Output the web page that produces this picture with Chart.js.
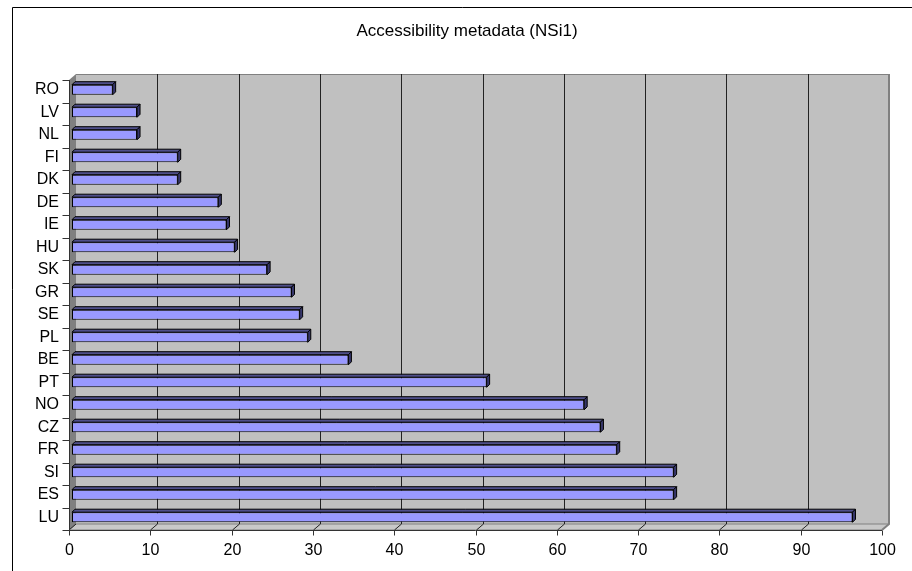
<!DOCTYPE html>
<html>
<head>
<meta charset="utf-8">
<title>Accessibility metadata (NSi1)</title>
<script src="https://cdn.jsdelivr.net/npm/chart.js@4/dist/chart.umd.min.js"></script>
<style>
  html, body { margin: 0; padding: 0; background: #fff; }
  #chart { display: block; }
</style>
</head>
<body>
<canvas id="chart" width="912" height="571"></canvas>
<script>
// data, top to bottom
const countries = ['RO', 'LV', 'NL', 'FI', 'DK', 'DE', 'IE', 'HU', 'SK', 'GR', 'SE', 'PL', 'BE', 'PT', 'NO', 'CZ', 'FR', 'SI', 'ES', 'LU'];
const scores = [5, 8, 8, 13, 13, 18, 19, 20, 24, 27, 28, 29, 34, 51, 63, 65, 67, 74, 74, 96];
const xTicks = [0, 10, 20, 30, 40, 50, 60, 70, 80, 90, 100];
const chartTitle = 'Accessibility metadata (NSi1)';

const FONT = '16px "Liberation Sans", Arial, sans-serif';
const TITLE_FONT = '17px "Liberation Sans", Arial, sans-serif';

// front plane is a bit left/below the bars, back wall sits further up/right
const FX = -3, FY = 1.5;
const DX = 7, DY = -6;
const BAR_DEPTH = 3;

const pseudo3d = {
	id: 'pseudo3d',
	beforeDraw(chart) {
		const ctx = chart.ctx;
		ctx.save();
		ctx.fillStyle = '#fff';
		ctx.fillRect(0, 0, chart.width, chart.height);
		// chart frame
		ctx.strokeStyle = '#000';
		ctx.lineWidth = 1;
		ctx.beginPath();
		ctx.moveTo(12.5, chart.height);
		ctx.lineTo(12.5, 7.5);
		ctx.lineTo(chart.width, 7.5);
		ctx.stroke();
		// title
		ctx.fillStyle = '#000';
		ctx.font = TITLE_FONT;
		ctx.textAlign = 'center';
		ctx.textBaseline = 'middle';
		ctx.fillText(chartTitle, 467, 31);
		ctx.restore();
	},
	beforeDatasetsDraw(chart) {
		const ctx = chart.ctx;
		const a = chart.chartArea;
		const xs = chart.scales.x;
		const ys = chart.scales.y;

		const fl = a.left + FX, fr = a.right + FX;
		const ft = a.top + FY, fb = a.bottom + FY;
		const bl = fl + DX, br = fr + DX, bt = ft + DY, bb = fb + DY;

		ctx.save();

		// back wall
		ctx.fillStyle = '#c0c0c0';
		ctx.fillRect(bl, bt, br - bl, bb - bt);

		// left wall
		ctx.fillStyle = '#808080';
		ctx.beginPath();
		ctx.moveTo(fl, ft);
		ctx.lineTo(bl, bt);
		ctx.lineTo(bl, bb);
		ctx.lineTo(fl, fb);
		ctx.closePath();
		ctx.fill();

		// floor
		ctx.fillStyle = '#c8c8c8';
		ctx.beginPath();
		ctx.moveTo(fl, fb);
		ctx.lineTo(bl, bb);
		ctx.lineTo(br, bb);
		ctx.lineTo(fr, fb);
		ctx.closePath();
		ctx.fill();
		ctx.strokeStyle = '#808080';
		ctx.lineWidth = 1;
		ctx.stroke();

		// wall edges
		ctx.strokeStyle = '#808080';
		ctx.beginPath();
		ctx.moveTo(bl, bt + 0.5);
		ctx.lineTo(br, bt + 0.5);
		ctx.stroke();
		ctx.lineWidth = 2;
		ctx.beginPath();
		ctx.moveTo(br, bt);
		ctx.lineTo(br, bb);
		ctx.lineTo(fr, fb);
		ctx.stroke();

		// gridlines on the back wall, running down across the floor
		ctx.strokeStyle = '#222';
		ctx.lineWidth = 1;
		xTicks.forEach(v => {
			if (v === 0 || v === 100) return;
			const x = Math.round(xs.getPixelForValue(v) + FX + DX) + 0.5;
			ctx.beginPath();
			ctx.moveTo(x, bt);
			ctx.lineTo(x, bb);
			ctx.lineTo(x - DX, fb);
			ctx.stroke();
		});
		ctx.beginPath();
		ctx.moveTo(bl, bb);
		ctx.lineTo(fl, fb);
		ctx.stroke();

		// value axis along the front edge
		const ay = Math.round(fb) + 0.5;
		ctx.strokeStyle = '#333';
		ctx.beginPath();
		ctx.moveTo(fl, ay);
		ctx.lineTo(fr, ay);
		ctx.stroke();
		ctx.fillStyle = '#000';
		ctx.font = FONT;
		ctx.textAlign = 'center';
		ctx.textBaseline = 'middle';
		xTicks.forEach(v => {
			const x = Math.round(xs.getPixelForValue(v) + FX) + 0.5;
			ctx.beginPath();
			ctx.moveTo(x, ay);
			ctx.lineTo(x, ay + 5);
			ctx.stroke();
			ctx.fillText(String(v), x, ay + 20);
		});

		// category axis
		const lx = Math.round(fl) + 0.5;
		ctx.beginPath();
		ctx.moveTo(lx, ft);
		ctx.lineTo(lx, fb);
		ctx.stroke();
		const band = (a.bottom - a.top) / countries.length;
		for (let i = 0; i <= countries.length; i++) {
			const y = Math.round(ft + band * i) + 0.5;
			ctx.beginPath();
			ctx.moveTo(lx - 7, y);
			ctx.lineTo(lx, y);
			ctx.stroke();
		}
		ctx.textAlign = 'right';
		countries.forEach((c, i) => {
			ctx.fillText(c, 59, ys.getPixelForValue(i));
		});

		ctx.restore();
	},
	afterDatasetsDraw(chart) {
		// top and end faces of each bar
		const ctx = chart.ctx;
		const meta = chart.getDatasetMeta(0);
		ctx.save();
		ctx.strokeStyle = '#000';
		ctx.lineWidth = 1;
		ctx.lineJoin = 'round';
		meta.data.forEach(bar => {
			const p = bar.getProps(['x', 'y', 'base', 'height'], true);
			const l = p.base, r = p.x;
			const t = p.y - p.height / 2, b = p.y + p.height / 2;
			const d = BAR_DEPTH;

			ctx.fillStyle = '#4f4f8a';
			ctx.beginPath();
			ctx.moveTo(l, t);
			ctx.lineTo(l + d, t - d);
			ctx.lineTo(r + d, t - d);
			ctx.lineTo(r, t);
			ctx.closePath();
			ctx.fill();
			ctx.stroke();

			ctx.fillStyle = '#36366a';
			ctx.beginPath();
			ctx.moveTo(r, t);
			ctx.lineTo(r + d, t - d);
			ctx.lineTo(r + d, b - d);
			ctx.lineTo(r, b);
			ctx.closePath();
			ctx.fill();
			ctx.stroke();
		});
		ctx.restore();
	}
};

new Chart(document.getElementById('chart'), {
	type: 'bar',
	data: {
		labels: countries,
		datasets: [{
			data: scores,
			backgroundColor: '#9999ff',
			borderColor: '#000',
			borderWidth: 1,
			borderSkipped: false,
			categoryPercentage: 1,
			barPercentage: 0.45
		}]
	},
	options: {
		indexAxis: 'y',
		responsive: false,
		animation: false,
		layout: {
			padding: { left: 72, right: 27, top: 78.5, bottom: 42.5 }
		},
		scales: {
			x: { min: 0, max: 100, display: false },
			y: { display: false }
		},
		plugins: {
			legend: { display: false },
			tooltip: { enabled: false }
		}
	},
	plugins: [pseudo3d]
});
</script>
</body>
</html>
